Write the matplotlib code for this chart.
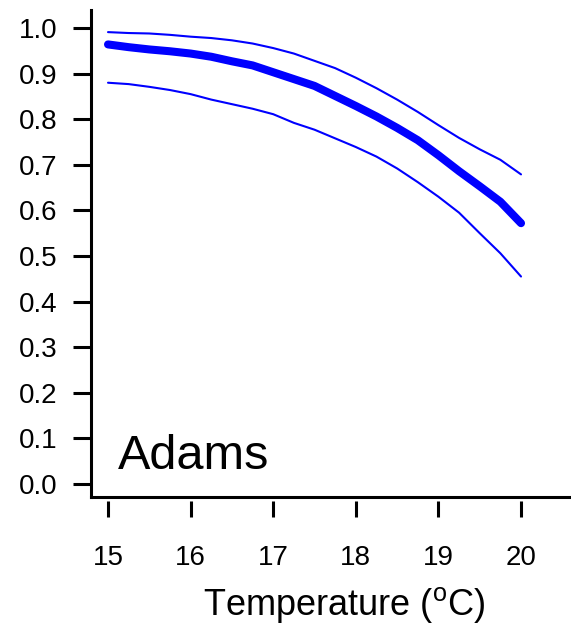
import matplotlib
matplotlib.use("Agg")
import matplotlib.pyplot as plt

# temperature grid and fitted survival curve with its band
temp = [15.0, 15.25, 15.5, 15.75, 16.0, 16.25, 16.5, 16.75, 17.0, 17.25, 17.5,
        17.75, 18.0, 18.25, 18.5, 18.75, 19.0, 19.25, 19.5, 19.75, 20.0]
mean = [0.964, 0.958, 0.953, 0.949, 0.944, 0.937, 0.927, 0.918, 0.903, 0.888, 0.873,
        0.851, 0.829, 0.806, 0.781, 0.754, 0.721, 0.686, 0.653, 0.619, 0.572]
upper = [0.991, 0.989, 0.988, 0.985, 0.981, 0.978, 0.973, 0.966, 0.956, 0.944, 0.928,
         0.912, 0.891, 0.868, 0.843, 0.816, 0.787, 0.759, 0.734, 0.711, 0.679]
lower = [0.880, 0.877, 0.871, 0.864, 0.855, 0.843, 0.833, 0.823, 0.811, 0.792, 0.777,
         0.758, 0.739, 0.718, 0.692, 0.662, 0.630, 0.595, 0.550, 0.506, 0.455]

xticks = [15, 16, 17, 18, 19, 20]
yticks = [0.0, 0.1, 0.2, 0.3, 0.4, 0.5, 0.6, 0.7, 0.8, 0.9, 1.0]

plt.rcParams["font.family"] = ["Liberation Sans", "DejaVu Sans"]
plt.rcParams["mathtext.fontset"] = "custom"
plt.rcParams["mathtext.rm"] = "Liberation Sans"

W, H = 571, 631
fig = plt.figure(figsize=(W / 100, H / 100), dpi=100)
ax = fig.add_axes([91 / W, 134 / H, 480 / W, 487 / H])

ax.plot(temp, upper, color="#0000ff", lw=1.5, solid_capstyle="round")
ax.plot(temp, lower, color="#0000ff", lw=1.5, solid_capstyle="round")
ax.plot(temp, mean, color="#0000ff", lw=5.8, solid_capstyle="round")

ax.set_xlim(14.794, 20.605)
ax.set_ylim(-0.0285, 1.0395)

for s in ("top", "right"):
    ax.spines[s].set_visible(False)
ax.spines["left"].set_linewidth(2.2)
# x ticks sit a little below the axis line, R style
ax.spines["bottom"].set_position(("outward", 3))
ax.spines["bottom"].set_visible(False)
ax.axhline(ax.get_ylim()[0], color="black", lw=2.2, clip_on=False)

ax.set_xticks(xticks)
ax.set_xticklabels([str(t) for t in xticks])
ax.set_yticks(yticks)
ax.set_yticklabels([f"{v:.1f}" for v in yticks])
ax.tick_params(axis="y", length=13, width=2.2, pad=11, labelsize=20)
ax.tick_params(axis="x", length=11.5, width=2.2, pad=20, labelsize=20)

ax.text(0.056, 0.0575, "Adams", transform=ax.transAxes, fontsize=35,
        ha="left", va="baseline")
fig.text(344 / W, 1 - 605 / H, r"Temperature ($^{\mathrm{o}}$C)", fontsize=26,
         ha="center", va="center")

fig.savefig("out.png", dpi=100)
